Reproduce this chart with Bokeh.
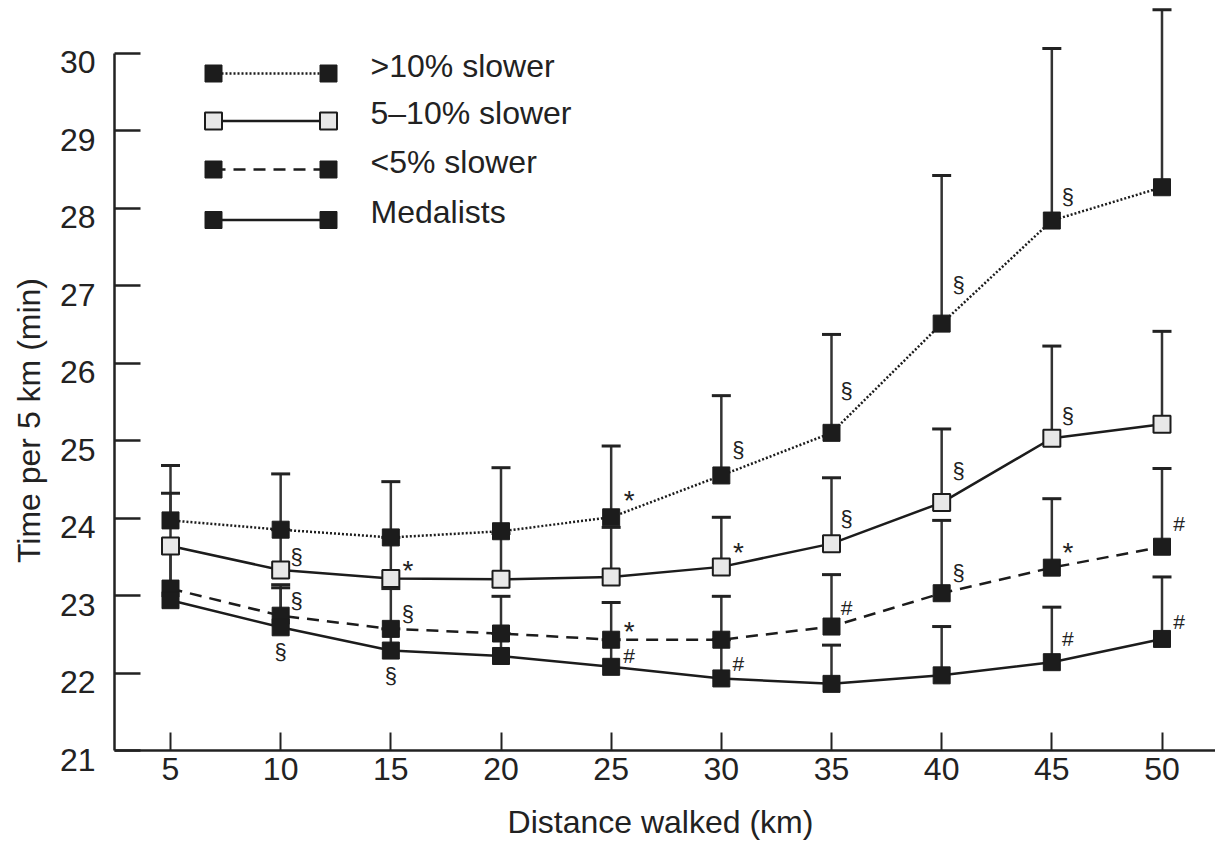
import math
from bokeh.plotting import figure
from bokeh.models import ColumnDataSource, FixedTicker
from bokeh.core.properties import value
from bokeh.embed import file_html
from bokeh.resources import INLINE

# ---------------- data ----------------
distance_km = [5, 10, 15, 20, 25, 30, 35, 40, 45, 50]
x_tick_labels = [str(d) for d in distance_km]
y_ticks = [21, 22, 23, 24, 25, 26, 27, 28, 29, 30]
y_tick_labels = [str(t) for t in y_ticks]
x_title = "Distance walked (km)"
y_title = "Time per 5 km (min)"

series_names = [">10% slower", "5\u201310% slower", "<5% slower", "Medalists"]

slower_gt10 = [23.97, 23.85, 23.75, 23.83, 24.01, 24.55, 25.10, 26.51, 27.84, 28.27]
slower_gt10_upper = [24.68, 24.57, 24.47, 24.65, 24.93, 25.58, 26.37, 28.42, 30.06, 30.56]

slower_5_10 = [23.64, 23.33, 23.22, 23.21, 23.24, 23.37, 23.67, 24.20, 25.03, 25.21]
slower_5_10_upper = [24.32, 23.85, 23.75, 23.80, 23.88, 24.01, 24.52, 25.15, 26.22, 26.41]

slower_lt5 = [23.09, 22.74, 22.57, 22.51, 22.43, 22.43, 22.60, 23.03, 23.36, 23.63]
slower_lt5_upper = [23.62, 23.14, 23.09, 22.99, 22.91, 22.99, 23.27, 23.97, 24.25, 24.64]

medalists = [22.94, 22.59, 22.29, 22.22, 22.08, 21.93, 21.86, 21.97, 22.14, 22.44]
medalists_upper = [23.55, 23.10, 22.57, 22.51, 22.43, 22.43, 22.36, 22.60, 22.85, 23.24]

# significance marks: distance, y of the mark, symbol, horizontal shift (px)
sig_km = [10, 10, 10, 15, 15, 15, 25, 25, 25, 30, 30, 30, 35, 35, 35,
          40, 40, 40, 45, 45, 45, 45, 50, 50]
sig_y = [23.50, 22.94, 22.28, 23.42, 22.77, 21.97, 24.32, 22.62, 22.23,
         24.88, 23.65, 22.12, 25.65, 23.99, 22.85, 27.02, 24.61, 23.30,
         28.15, 25.32, 23.64, 22.44, 23.93, 22.67]
sig_sym = ["§", "§", "§", "*", "§", "§", "*", "*", "#", "§", "*", "#",
           "§", "§", "#", "§", "§", "§", "§", "§", "*", "#", "#", "#"]
sig_dx = [16, 16, 0, 17, 17, 0, 18, 18, 18, 17, 17, 17, 15, 15, 15,
          17, 17, 17, 16, 16, 16, 16, 17, 17]

# ---------------- layout (pixel geometry of the reference) ----------------
W, H = 1215, 845
AXIS_X_PX = 114.0                 # y axis line
TICK30_PX, TICK21_PX = 52.7, 750.0
PX_MIN = (TICK21_PX - TICK30_PX) / 9.0
Y_END = 30 + TICK30_PX / PX_MIN
Y_START = 30 - (H - TICK30_PX) / PX_MIN
X5_PX, X50_PX = 170.0, 1161.5
PX_KM = (X50_PX - X5_PX) / 45.0
X_START = 5 - X5_PX / PX_KM
X_END = 5 + (W - X5_PX) / PX_KM


def x_at(px):
    return X_START + px / PX_KM


def y_at(px):
    return Y_END - px / PX_MIN


X_AXIS_POS = x_at(AXIS_X_PX)

FONT = "Liberation Sans"
INK = "#222222"
LINE = "#1c1c1c"

p = figure(width=W, height=H, output_backend="svg", toolbar_location=None,
           x_range=(X_START, X_END), y_range=(Y_START, Y_END), min_border=0)
p.outline_line_color = None
p.xgrid.visible = False
p.ygrid.visible = False

# x axis: line at y = 21, inward ticks
xa = p.xaxis[0]
xa.fixed_location = 21
xa.bounds = (X_AXIS_POS, X_END)
xa.ticker = FixedTicker(ticks=[], minor_ticks=distance_km)
xa.minor_tick_in = 18
xa.minor_tick_out = 0
xa.minor_tick_line_width = 2
xa.minor_tick_line_color = INK
xa.major_tick_line_color = None
xa.axis_line_width = 2.5
xa.axis_line_color = INK

# y axis: line 21..30, inward ticks
ya = p.yaxis[0]
ya.fixed_location = X_AXIS_POS
ya.bounds = (21, 30)
ya.ticker = FixedTicker(ticks=[], minor_ticks=y_ticks)
ya.minor_tick_in = 26
ya.minor_tick_out = 0
ya.minor_tick_line_width = 2.5
ya.minor_tick_line_color = INK
ya.major_tick_line_color = None
ya.axis_line_width = 2.5
ya.axis_line_color = INK

# tick labels and axis titles
p.text(x=distance_km, y=[21] * len(distance_km), text=x_tick_labels, y_offset=18.5,
       text_align="center", text_baseline="middle", text_font=value(FONT),
       text_font_size="32px", text_color=INK)
p.text(x=[X_AXIS_POS] * len(y_ticks), y=y_ticks, text=y_tick_labels, x_offset=-19,
       y_offset=9, text_align="right", text_baseline="middle", text_font=value(FONT),
       text_font_size="32px", text_color=INK)
p.text(x=[x_at(660)], y=[y_at(821)], text=[x_title], text_align="center",
       text_baseline="middle", text_font=value(FONT), text_font_size="32px",
       text_color=INK)
p.text(x=[x_at(28)], y=[y_at(420)], text=[y_title], angle=math.pi / 2,
       text_align="center", text_baseline="middle", text_font=value(FONT),
       text_font_size="32px", text_color=INK)

series = [
    (series_names[0], slower_gt10, slower_gt10_upper, "2 2", LINE),
    (series_names[1], slower_5_10, slower_5_10_upper, "solid", "#e8e8e8"),
    (series_names[2], slower_lt5, slower_lt5_upper, "12 8", LINE),
    (series_names[3], medalists, medalists_upper, "solid", LINE),
]

# error bars (upward)
for name, ys, up, dash, fill in series:
    src = ColumnDataSource(dict(x=distance_km, y=ys, up=up))
    p.segment(x0="x", y0="y", x1="x", y1="up", source=src, line_color="#333333",
              line_width=2.5)
    p.scatter(x="x", y="up", source=src, marker="dash", size=19,
              line_color="#222222", line_width=3)

# connecting lines
for name, ys, up, dash, fill in series:
    p.line(distance_km, ys, line_color=LINE, line_width=2.5, line_dash=dash)

# markers
for name, ys, up, dash, fill in series:
    p.scatter(distance_km, ys, marker="square", size=17, fill_color=fill,
              line_color=LINE, line_width=2 if fill != LINE else 1)

# significance symbols
sig_off = [7 if s == "*" else 0 for s in sig_sym]
sig_size = ["28px" if s == "*" else ("21px" if s == "#" else "22px") for s in sig_sym]
sig_src = ColumnDataSource(dict(x=sig_km, y=sig_y, t=sig_sym, dx=sig_dx,
                                dy=sig_off, fs=sig_size))
p.text(x="x", y="y", text="t", source=sig_src, x_offset="dx", y_offset="dy",
       text_align="center", text_baseline="middle", text_font=value(FONT),
       text_font_size="fs", text_color=INK)

# legend: line with a marker at each end, label to the right
leg_rows_px = [73, 120.5, 169, 219.5]
leg_x0, leg_x1, leg_tx = x_at(213), x_at(328), x_at(370)
for (name, ys, up, dash, fill), ry in zip(series, leg_rows_px):
    yy = y_at(ry)
    p.line([leg_x0, leg_x1], [yy, yy], line_color=LINE, line_width=2.5, line_dash=dash)
    p.scatter([leg_x0, leg_x1], [yy, yy], marker="square", size=17, fill_color=fill,
              line_color=LINE, line_width=2 if fill != LINE else 1)
    p.text(x=[leg_tx], y=[yy], text=[name], y_offset=-8, text_align="left",
           text_baseline="middle", text_font=value(FONT), text_font_size="32px",
           text_color=INK)

open("out.html", "w").write(file_html(p, INLINE))
